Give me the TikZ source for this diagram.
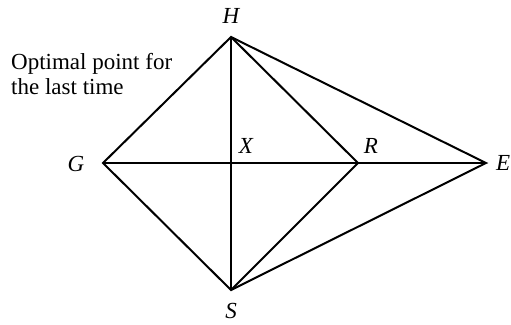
\documentclass[tikz,border=0pt]{standalone}
\usepackage{fontspec}
\setmainfont{Liberation Serif}
\newfontfamily\notefont{Liberation Serif}
\begin{document}
\begin{tikzpicture}[x=1pt,y=-1pt,
  edge/.style={draw=black,line width=2pt,line join=miter},
  lbl/.style={font=\fontsize{23}{26}\selectfont\itshape,inner sep=0pt},
  txt/.style={font=\notefont\fontsize{23}{25.5}\selectfont,inner sep=0pt,align=left}]
\useasboundingbox (0,0) rectangle (511,324);
\coordinate (H) at (231,37);
\coordinate (G) at (103,163);
\coordinate (X) at (231,163);
\coordinate (R) at (358,163);
\coordinate (E) at (486,163);
\coordinate (S) at (231,290);
\draw[edge] (G) -- (H) -- (R) -- (S) -- cycle;
\draw[edge] (H) -- (S);
\draw[edge] (G) -- (E);
\draw[edge] (H) -- (E) -- (S);
\node[lbl] (lH) at (231,16) {H};
\node[lbl] (lG) at (76,164) {G};
\node[lbl] (lX) at (246,146) {X};
\node[lbl] (lR) at (371,146) {R};
\node[lbl,anchor=west] (lE) at (496,163) {E};
\node[lbl] (lS) at (231,311) {S};
\node[txt,anchor=west] (note) at (11,74) {Optimal point for\\the last time};
\end{tikzpicture}
\end{document}
